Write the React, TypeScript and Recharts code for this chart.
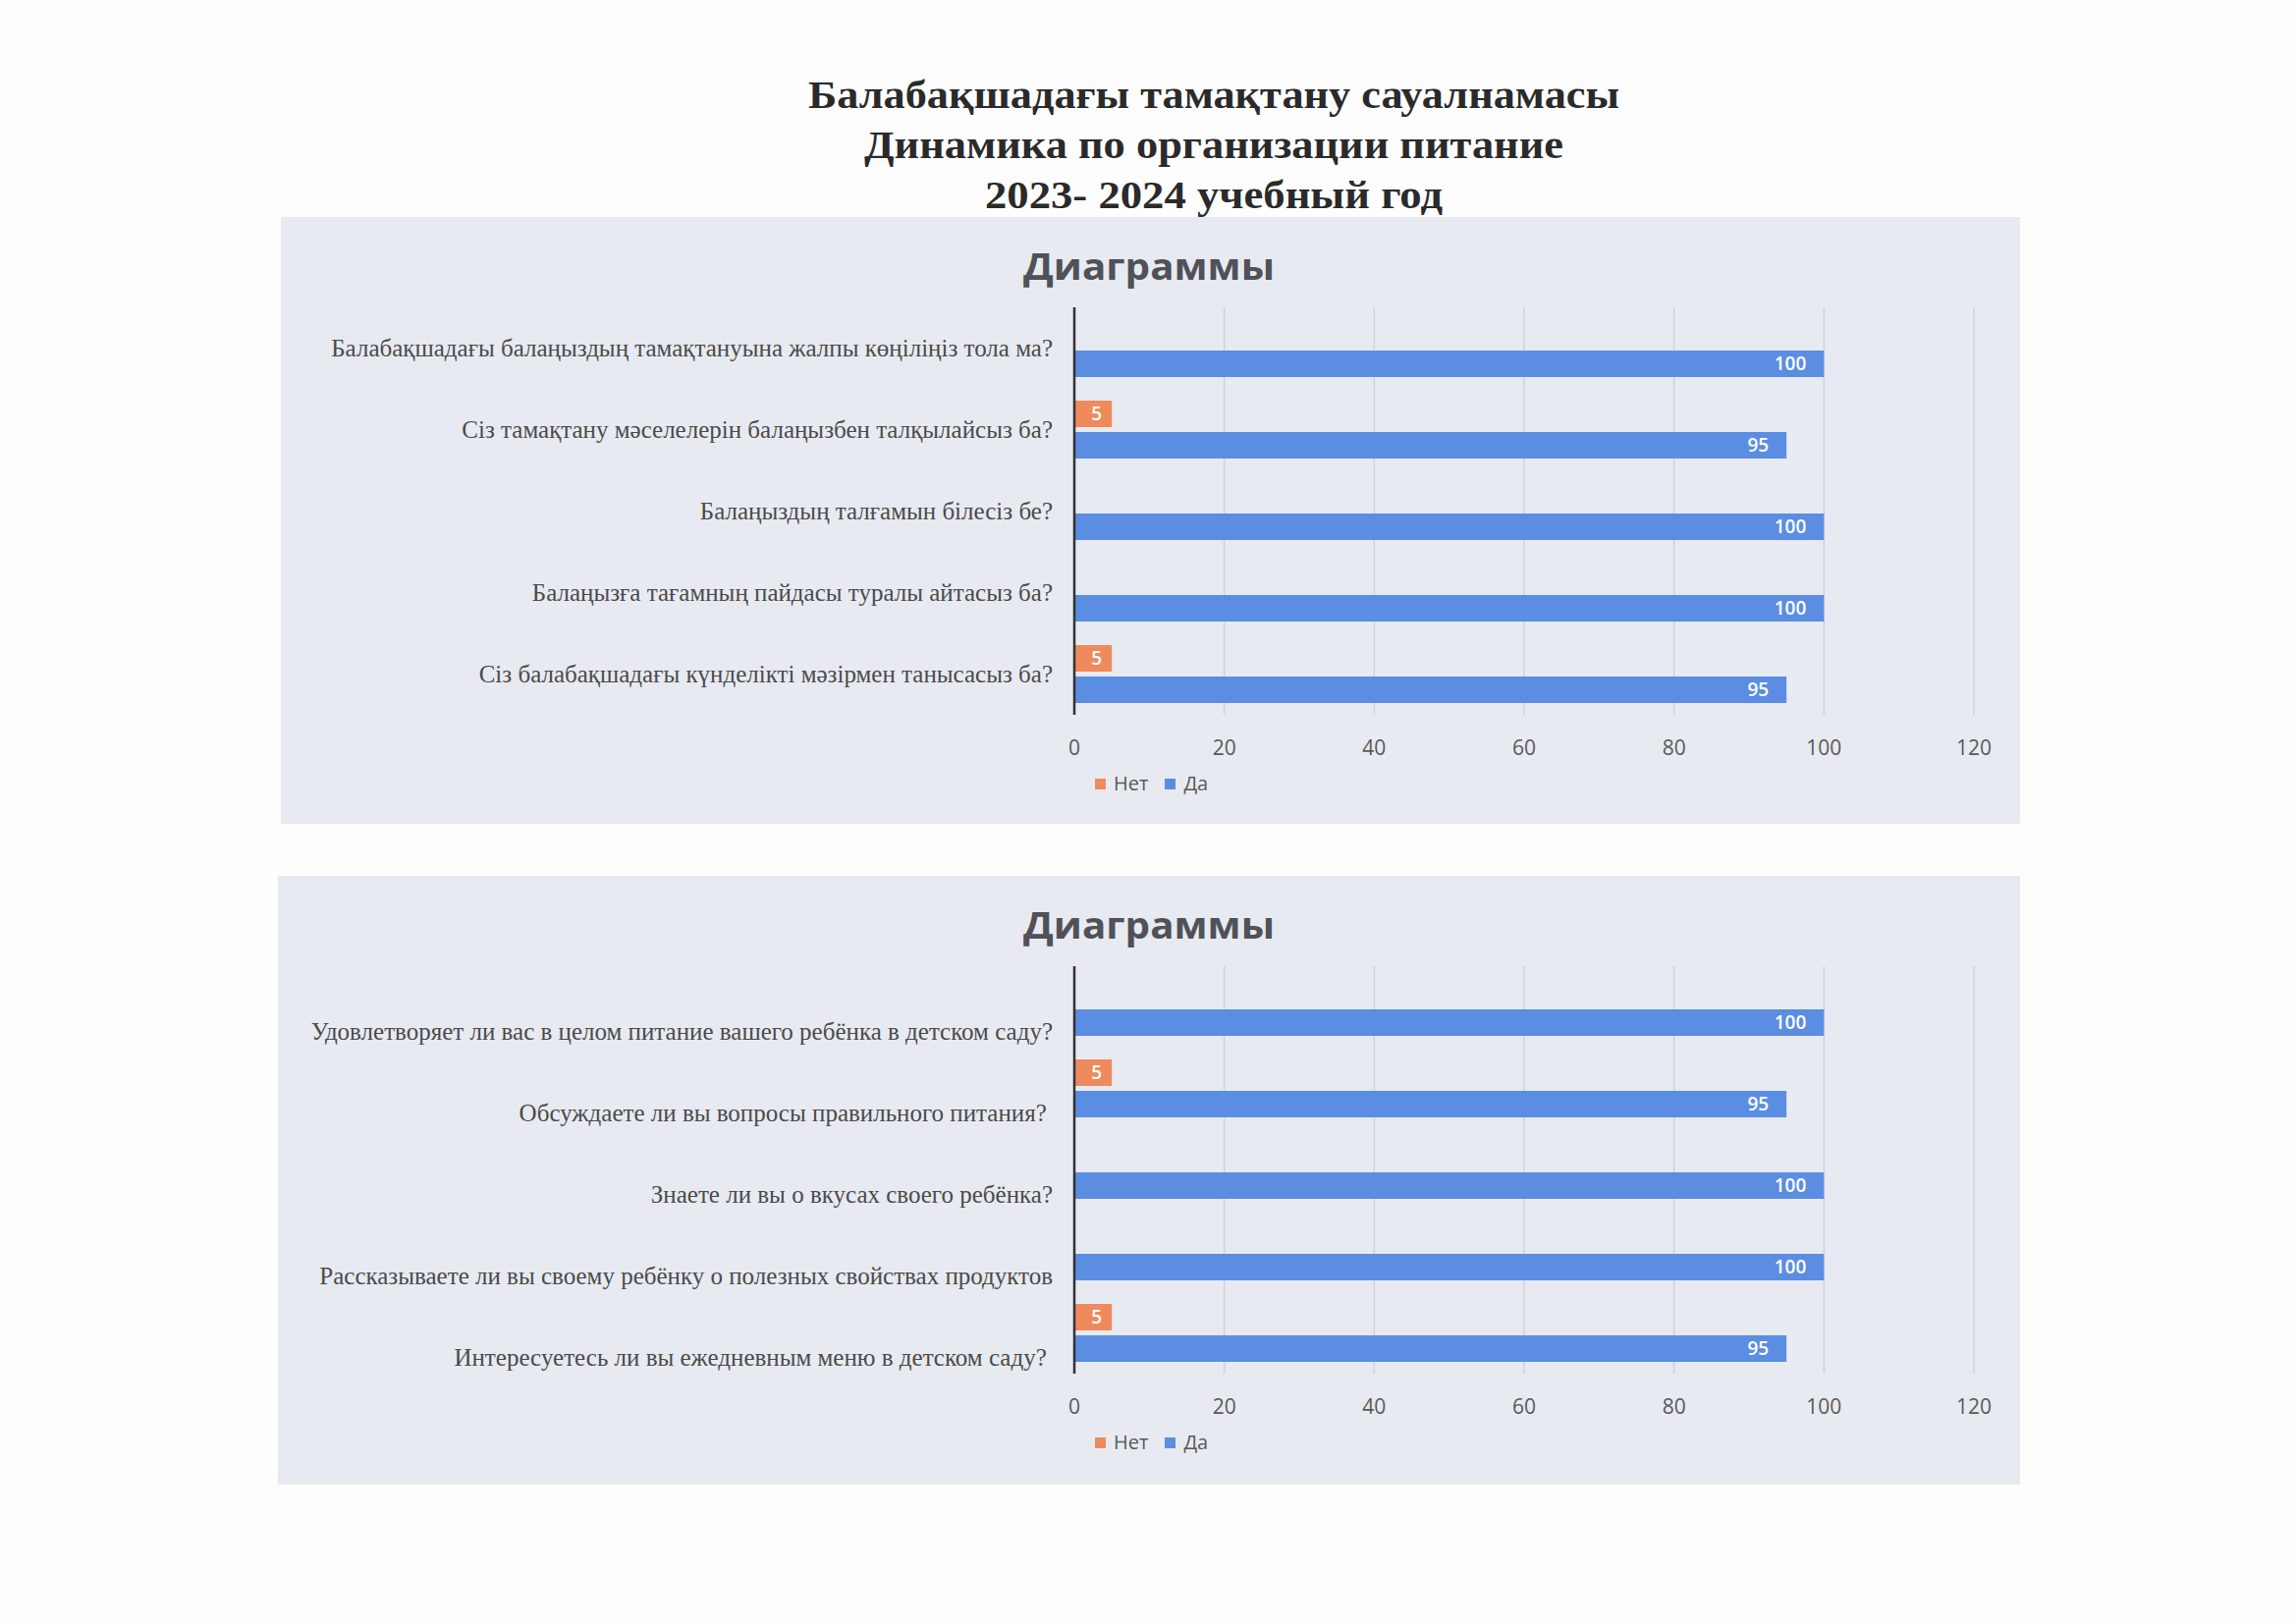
import React from 'react'
import { Bar, BarChart, CartesianGrid, LabelList, Legend, XAxis, YAxis } from 'recharts'

// page heading
const titleLines = [
  'Балабақшадағы тамақтану сауалнамасы',
  'Динамика по организации питание',
  '2023- 2024 учебный год',
]
const chartTitle = 'Диаграммы'

// series names
const noName = 'Нет'
const yesName = 'Да'

// kazakh questionnaire
const kzQuestions = [
  'Балабақшадағы балаңыздың тамақтануына жалпы көңіліңіз тола ма?',
  'Сіз тамақтану мәселелерін балаңызбен талқылайсыз ба?',
  'Балаңыздың талғамын білесіз бе?',
  'Балаңызға тағамның пайдасы туралы айтасыз ба?',
  'Сіз балабақшадағы күнделікті мәзірмен танысасыз ба?',
]
const kzNo = [0, 5, 0, 0, 5]
const kzYes = [100, 95, 100, 100, 95]

// russian questionnaire
const ruQuestions = [
  'Удовлетворяет ли вас в целом питание вашего ребёнка в детском саду?',
  'Обсуждаете ли вы вопросы правильного питания?\u00a0',
  'Знаете ли вы о вкусах своего ребёнка?',
  'Рассказываете ли вы своему ребёнку о полезных свойствах продуктов',
  'Интересуетесь ли вы ежедневным меню в детском саду?\u00a0',
]
const ruNo = [0, 5, 0, 0, 5]
const ruYes = [100, 95, 100, 100, 95]

const xTicks = [0, 20, 40, 60, 80, 100, 120]

const BLUE = '#5b8ee2'
const ORANGE = '#ef8a5c'
const GREY_TEXT = '#595959'
const SANS = '"Open Sans", "Noto Sans", sans-serif'
const SERIF = '"Liberation Serif", "DejaVu Serif", serif'

// legend keeps the series order (Нет, Да) instead of sorting by name
const renderLegend = (props: any) => {
  const items = [...props.payload].sort((a: any, b: any) => (a.dataKey === 'no' ? -1 : b.dataKey === 'no' ? 1 : 0))
  return (
    <div style={{ display: 'flex', alignItems: 'center', fontFamily: SANS, fontSize: 20, color: GREY_TEXT, lineHeight: '22px' }}>
      {items.map((entry: any) => (
        <span key={entry.value} style={{ display: 'flex', alignItems: 'center', marginRight: 17 }}>
          <span style={{ width: 11, height: 11, background: entry.color, marginRight: 8, display: 'inline-block' }} />
          {entry.value}
        </span>
      ))}
    </div>
  )
}

interface PanelProps {
  questions: string[]
  no: number[]
  yes: number[]
  left: number
  top: number
  width: number
  height: number
  labelShift: number
}

function SurveyPanel({ questions, no, yes, left, top, width, height, labelShift }: PanelProps) {
  const data = questions.map((q, i) => ({ q, no: no[i], yes: yes[i] }))
  const axisX = 1094 - left // where the value 0 sits inside the panel
  const rightEdge = left + width - 2010

  return (
    <div style={{ position: 'absolute', left, top, width, height, background: '#e8eaf1' }}>
      <svg width={width} height={90} style={{ position: 'absolute', left: 0, top: 0 }}>
        <text
          x={1170 - left}
          y={64}
          textAnchor="middle"
          fontFamily={SANS}
          fontWeight={700}
          fontSize={37}
          fill="#515158"
          textLength={256}
          lengthAdjust="spacingAndGlyphs"
        >
          {chartTitle}
        </text>
      </svg>
      <BarChart
        width={width}
        height={height}
        data={data}
        layout="vertical"
        barSize={27}
        barGap={5}
        margin={{ top: 92, right: rightEdge, left: 0, bottom: height - 92 - 415 - 40 }}
      >
        <CartesianGrid horizontal={false} stroke="#cfd2da" strokeWidth={1.5} />
        <XAxis
          type="number"
          domain={[0, 120]}
          ticks={xTicks}
          height={40}
          axisLine={false}
          tickLine={false}
          tickSize={0}
          tickMargin={26}
          tick={{ fill: GREY_TEXT, fontSize: 21, fontFamily: SANS }}
        />
        <YAxis
          type="category"
          dataKey="q"
          width={axisX}
          interval={0}
          axisLine={{ stroke: '#333333', strokeWidth: 2.5 }}
          tickLine={false}
          tickSize={0}
          tickMargin={22}
          tick={{ fill: '#4a4a4a', fontSize: 25, fontFamily: SERIF, dy: labelShift }}
        />
        <Legend
          layout="horizontal"
          verticalAlign="middle"
          align="center"
          content={renderLegend}
          wrapperStyle={{ left: 1115 - left, top: 566, width: 'auto' }}
        />
        <Bar dataKey="no" name={noName} fill={ORANGE} isAnimationActive={false}>
          <LabelList
            dataKey="no"
            position="insideRight"
            offset={10}
            fill="#ffffff"
            fontSize={19}
            fontWeight={600}
            fontFamily={SANS}
            formatter={(v: any) => (v ? v : '')}
          />
        </Bar>
        <Bar dataKey="yes" name={yesName} fill={BLUE} isAnimationActive={false}>
          <LabelList
            dataKey="yes"
            position="insideRight"
            offset={18}
            fill="#ffffff"
            fontSize={19}
            fontWeight={600}
            fontFamily={SANS}
          />
        </Bar>
      </BarChart>
    </div>
  )
}

export default function App() {
  return (
    <div style={{ position: 'absolute', left: 0, top: 0, width: 2338, height: 1654, background: '#fdfdfd', overflow: 'hidden' }}>
      <svg width={2338} height={240} style={{ position: 'absolute', left: 0, top: 0 }}>
        {titleLines.map((line, i) => (
          <text
            key={line}
            x={1236}
            y={110 + i * 51}
            textAnchor="middle"
            fontFamily={SERIF}
            fontWeight={700}
            fontSize={40}
            fill="#2a2a2a"
            textLength={[826, 712, 466][i]}
            lengthAdjust="spacingAndGlyphs"
          >
            {line}
          </text>
        ))}
      </svg>
      <SurveyPanel questions={kzQuestions} no={kzNo} yes={kzYes} left={286} top={221} width={1771} height={618} labelShift={0} />
      <SurveyPanel questions={ruQuestions} no={ruNo} yes={ruYes} left={283} top={892} width={1774} height={620} labelShift={25} />
    </div>
  )
}
